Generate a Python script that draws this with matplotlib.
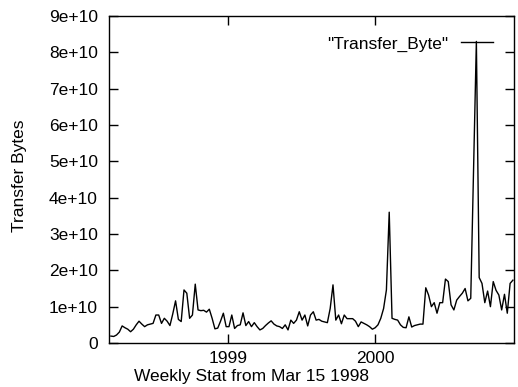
import matplotlib
matplotlib.use("Agg")
import matplotlib.pyplot as plt
import numpy as np

plt.rcParams['font.family'] = ['Liberation Sans', 'DejaVu Sans']

# Weekly transfer bytes (units of 1e10), starting Mar 15 1998
weekly_values_e10 = [
    0.19, 0.18, 0.22, 0.30, 0.47, 0.42, 0.38, 0.31, 0.38, 0.50,
    0.60, 0.52, 0.45, 0.50, 0.52, 0.54, 0.77, 0.77, 0.54, 0.68,
    0.60, 0.48, 0.80, 1.16, 0.65, 0.59, 1.46, 1.37, 0.68, 0.77,
    1.62, 0.91, 0.89, 0.90, 0.85, 0.93, 0.68, 0.39, 0.41, 0.60,
    0.82, 0.45, 0.45, 0.77, 0.40, 0.48, 0.50, 0.83, 0.48, 0.59,
    0.45, 0.56, 0.45, 0.36, 0.40, 0.48, 0.55, 0.61, 0.52, 0.47,
    0.45, 0.40, 0.50, 0.36, 0.63, 0.54, 0.63, 0.86, 0.63, 0.77,
    0.47, 0.77, 0.86, 0.63, 0.65, 0.60, 0.58, 0.56, 0.95, 1.60,
    0.63, 0.77, 0.53, 0.77, 0.67, 0.67, 0.67, 0.60, 0.45, 0.58,
    0.54, 0.50, 0.45, 0.38, 0.42, 0.50, 0.68, 0.95, 1.46, 3.60,
    0.68, 0.65, 0.63, 0.50, 0.43, 0.42, 0.72, 0.44, 0.48, 0.50,
    0.52, 0.52, 1.52, 1.32, 1.00, 1.11, 0.82, 1.11, 1.11, 1.76,
    1.69, 1.05, 0.91, 1.18, 1.28, 1.37, 1.50, 1.16, 1.23, 4.70,
    8.30, 1.80, 1.64, 1.11, 1.43, 1.00, 1.69, 1.45, 1.32, 0.91,
    1.34, 0.82, 1.64, 1.73,
]
start_year = 1998.2          # Mar 15 1998 as fractional year
week_in_years = 7 / 365.25
x_limits = (1998.187, 2000.948)
x_tick_values = [1999, 2000]
x_tick_labels = ["1999", "2000"]
y_tick_values = [i * 1e10 for i in range(10)]
y_tick_labels = ["0"] + [f"{i}e+10" for i in range(1, 10)]
series_label = '"Transfer_Byte"'

x = start_year + np.arange(len(weekly_values_e10)) * week_in_years
y = np.array(weekly_values_e10) * 1e10

fig = plt.figure(figsize=(5.18, 3.87), dpi=100)
ax = fig.add_axes([109/518, 1 - 343/387, (514-109)/518, (343-16)/387])

ax.plot(x, y, color='black', lw=1.0, label=series_label)

ax.set_xlim(*x_limits)
ax.set_ylim(0, 9e10)
ax.set_xticks(x_tick_values)
ax.set_xticklabels(x_tick_labels)
ax.set_yticks(y_tick_values)
ax.set_yticklabels(y_tick_labels)

fs = 12.5
ax.tick_params(direction='in', length=6.5, width=1.0, top=True, right=True,
               labelsize=fs, colors='black')
ax.tick_params(axis='y', pad=8)
ax.tick_params(axis='x', pad=6)
for s in ax.spines.values():
    s.set_linewidth(1.0)
    s.set_color('black')

fig.text(20/518, 1 - 176/387, "Transfer Bytes", rotation=90, ha='center',
         va='center', fontsize=fs)
fig.text(251/518, 1 - 381/387, "Weekly Stat from Mar 15 1998", ha='center',
         va='baseline', fontsize=fs)

ax.legend(loc='center right', bbox_to_anchor=((493-109)/405, 1 - (44-16)/327),
          frameon=False, markerfirst=False, handlelength=1.85,
          handletextpad=0.7, borderpad=0, borderaxespad=0, fontsize=fs)

fig.savefig("out.png", dpi=100)
